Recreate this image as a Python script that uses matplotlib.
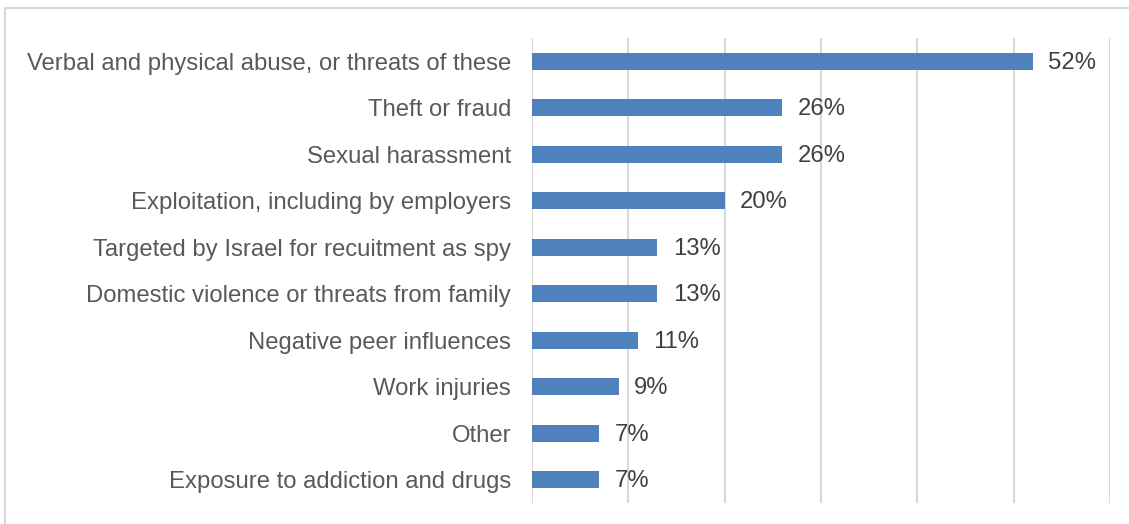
import matplotlib.pyplot as plt
from matplotlib.patches import Rectangle

plt.rcParams['font.family'] = ['Liberation Sans', 'DejaVu Sans']

categories = [
    "Verbal and physical abuse, or threats of these",
    "Theft or fraud",
    "Sexual harassment",
    "Exploitation, including by employers",
    "Targeted by Israel for recuitment as spy",
    "Domestic violence or threats from family",
    "Negative peer influences",
    "Work injuries",
    "Other",
    "Exposure to addiction and drugs",
]
values = [52, 26, 26, 20, 13, 13, 11, 9, 7, 7]

fig = plt.figure(figsize=(11.29, 5.24), dpi=100)
ax = fig.add_axes([532 / 1129, 1 - 503 / 524, (1110 - 532) / 1129, (503 - 38) / 524])

# outer chart border, runs off the right and bottom edges
fig.patches.append(Rectangle((5 / 1129, -0.1), 1.2, 1 - 8 / 524 + 0.1,
                             transform=fig.transFigure, fill=False,
                             edgecolor='#d9d9d9', linewidth=1.5))

pos = list(range(len(categories)))
ax.barh(pos, values, height=0.36, color='#4f81bd', zorder=3)
for y, v in zip(pos, values):
    ax.text(v + 1.6, y + 0.03, f"{v}%", va='center', ha='left', fontsize=17.2, color='#404040')

ax.set_xlim(0, 60)
ax.set_ylim(len(categories) - 0.5, -0.5)
ax.set_xticks(range(0, 61, 10))
ax.set_xticklabels([])
ax.set_yticks(pos)
ax.set_yticklabels(categories, fontsize=17.2, color='#595959')
ax.tick_params(axis='both', length=0)
ax.tick_params(axis='y', pad=15)
ax.grid(axis='x', color='#d9d9d9', linewidth=1.5, zorder=0)
for s in ax.spines.values():
    s.set_visible(False)

fig.savefig('out.png', dpi=100)
